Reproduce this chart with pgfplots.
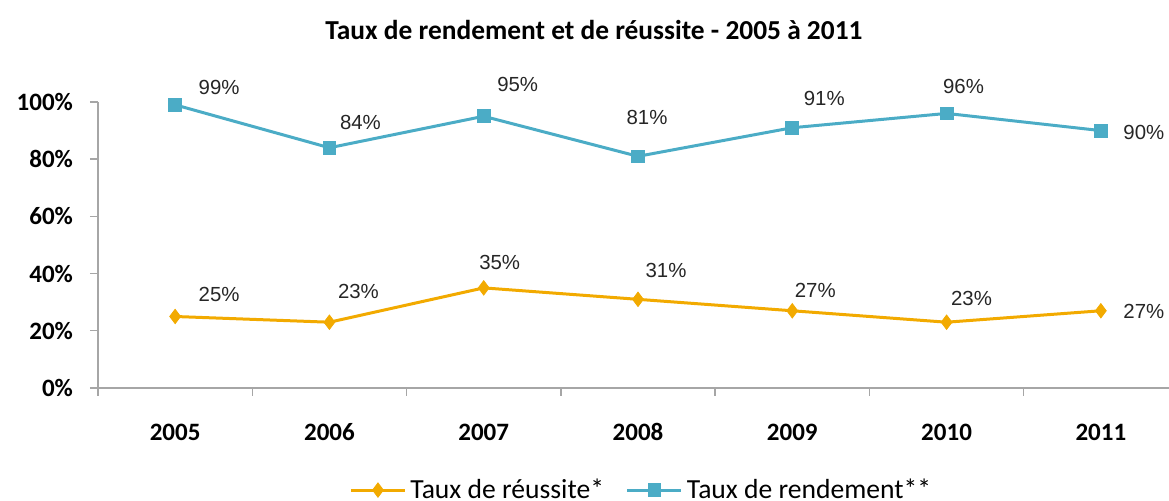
\documentclass[border=0pt]{standalone}
\usepackage{pgfplots}
\pgfplotsset{compat=1.18}
\usepackage{fontspec}
\setmainfont{Carlito}
\newfontfamily\arialfont{Liberation Sans}
\definecolor{orng}{HTML}{F2AA00}
\definecolor{blu}{HTML}{4BACC6}
\definecolor{axgray}{HTML}{A6A6A6}
\tikzset{lbl/.style={font=\arialfont\fontsize{10.2}{12}\selectfont, text=black!85}}
\begin{document}
\begin{tikzpicture}
\begin{axis}[
  at={(49pt,56.5pt)}, anchor=south west,
  scale only axis, width=540pt, height=143pt,
  xmin=-0.5, xmax=6.5, ymin=0, ymax=100,
  axis x line*=bottom, axis y line*=left,
  axis line style={axgray, line width=0.7pt},
  every tick/.style={axgray, line width=0.7pt},
  tick align=outside, major tick length=4pt,
  xtick={-0.5,0.5,...,6.5},
  x tick label as interval,
  xticklabels={2005,2006,2007,2008,2009,2010,2011},
  typeset ticklabels with strut,
  ytick={0,20,40,60,80,100},
  yticklabel={\pgfmathprintnumber{\tick}\%},
  /pgf/number format/assume math mode=true,
  tick label style={font=\fontsize{12.5}{14}\selectfont\bfseries, text=black},
  x tick label style={yshift=-9pt},
  y tick label style={xshift=-5pt},
  clip=false,
  legend columns=2,
  legend style={at={(axis description cs:0.504,-0.357)}, anchor=center, draw=none,
    font=\fontsize{13.8}{15}\selectfont, /tikz/every even column/.append style={column sep=9pt}},
  legend image code/.code={\draw[mark repeat=2,mark phase=2,#1] plot coordinates {(0pt,0pt)(13.5pt,0pt)(27pt,0pt)};},
]
\addplot[orng, line width=1.5pt, mark=diamond*, mark size=3.6pt, mark options={fill=orng, draw=orng, line width=0.4pt}]
  coordinates {(0,25) (1,23) (2,35) (3,31) (4,27) (5,23) (6,27)};
\addlegendentry{Taux de réussite*}
\addplot[blu, line width=1.5pt, mark=square*, mark size=3.2pt, mark options={fill=blu, draw=blu, line width=0.4pt}]
  coordinates {(0,99) (1,84) (2,95) (3,81) (4,91) (5,96) (6,90)};
\addlegendentry{Taux de rendement**}
% data labels, blue
\node[lbl, xshift=22pt, yshift=8.5pt] at (axis cs:0,99) {99\%};
\node[lbl, xshift=15.5pt, yshift=12.5pt] at (axis cs:1,84) {84\%};
\node[lbl, xshift=17pt, yshift=16pt] at (axis cs:2,95) {95\%};
\node[lbl, xshift=4.5pt, yshift=19.5pt] at (axis cs:3,81) {81\%};
\node[lbl, xshift=16pt, yshift=14.5pt] at (axis cs:4,91) {91\%};
\node[lbl, xshift=8.5pt, yshift=13.5pt] at (axis cs:5,96) {96\%};
\node[lbl, xshift=21.5pt, yshift=-1pt] at (axis cs:6,90) {90\%};
% data labels, orange
\node[lbl, xshift=22pt, yshift=11pt] at (axis cs:0,25) {25\%};
\node[lbl, xshift=14.5pt, yshift=15.5pt] at (axis cs:1,23) {23\%};
\node[lbl, xshift=8pt, yshift=12.5pt] at (axis cs:2,35) {35\%};
\node[lbl, xshift=14pt, yshift=14.5pt] at (axis cs:3,31) {31\%};
\node[lbl, xshift=11.5pt, yshift=10pt] at (axis cs:4,27) {27\%};
\node[lbl, xshift=12.5pt, yshift=12pt] at (axis cs:5,23) {23\%};
\node[lbl, xshift=21.5pt, yshift=-0.5pt] at (axis cs:6,27) {27\%};
\end{axis}
\node[font=\fontsize{13.7}{15}\selectfont\bfseries] at (297pt,235.5pt) {Taux de rendement et de réussite - 2005 à 2011};
\pgfresetboundingbox
\useasboundingbox (0,0) rectangle (584.5pt,250.5pt);
\end{tikzpicture}
\end{document}
